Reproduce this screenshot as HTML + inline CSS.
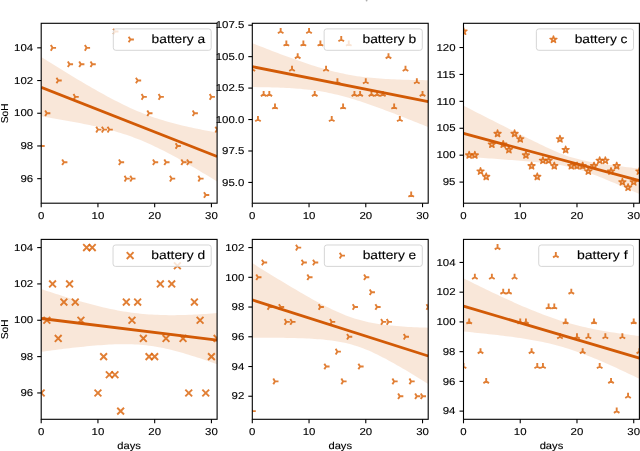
<!DOCTYPE html><html><head><meta charset="utf-8"><style>html,body{margin:0;padding:0;background:#fff;overflow:hidden}svg{display:block;will-change:transform}text{text-rendering:geometricPrecision;font-family:"Liberation Sans",sans-serif;fill:#000;stroke:#000;stroke-width:.12}.lm{fill:none;stroke:#d95f02;stroke-opacity:.8;stroke-width:1.9}.sm{fill:#d95f02;fill-opacity:.25;stroke:#d95f02;stroke-opacity:.8;stroke-width:1.5;stroke-linejoin:round}.tk{font-size:10.5px}.lg{font-size:13px}</style></head><body>
<svg width="640" height="451" viewBox="0 0 640 451">
<rect width="640" height="451" fill="#fff"/>
<defs>
<clipPath id="ca"><rect x="41.2" y="23.3" width="175.9" height="179.9"/></clipPath>
<clipPath id="cb"><rect x="252.3" y="23.3" width="175.9" height="179.9"/></clipPath>
<clipPath id="cc"><rect x="463.5" y="23.3" width="175.9" height="179.9"/></clipPath>
<clipPath id="cd"><rect x="41.2" y="239.4" width="175.9" height="179.9"/></clipPath>
<clipPath id="ce"><rect x="252.3" y="239.4" width="175.9" height="179.9"/></clipPath>
<clipPath id="cf"><rect x="463.5" y="239.4" width="175.9" height="179.9"/></clipPath>
</defs>
<g clip-path="url(#ca)">
<path d="M41.2 145.96L44.7 145.96M41.2 145.96L39.45 143.16M41.2 145.96L39.45 148.76" class="lm"/>
<path d="M46.87 113.25L50.37 113.25M46.87 113.25L45.12 110.45M46.87 113.25L45.12 116.05" class="lm"/>
<path d="M52.55 47.83L56.05 47.83M52.55 47.83L50.8 45.03M52.55 47.83L50.8 50.63" class="lm"/>
<path d="M58.22 80.54L61.72 80.54M58.22 80.54L56.47 77.74M58.22 80.54L56.47 83.34" class="lm"/>
<path d="M63.9 162.31L67.4 162.31M63.9 162.31L62.15 159.51M63.9 162.31L62.15 165.11" class="lm"/>
<path d="M69.57 64.19L73.07 64.19M69.57 64.19L67.82 61.39M69.57 64.19L67.82 66.99" class="lm"/>
<path d="M75.25 96.9L78.75 96.9M75.25 96.9L73.5 94.1M75.25 96.9L73.5 99.7" class="lm"/>
<path d="M80.92 64.19L84.42 64.19M80.92 64.19L79.17 61.39M80.92 64.19L79.17 66.99" class="lm"/>
<path d="M86.59 47.83L90.09 47.83M86.59 47.83L84.84 45.03M86.59 47.83L84.84 50.63" class="lm"/>
<path d="M92.27 64.19L95.77 64.19M92.27 64.19L90.52 61.39M92.27 64.19L90.52 66.99" class="lm"/>
<path d="M97.94 129.6L101.44 129.6M97.94 129.6L96.19 126.8M97.94 129.6L96.19 132.4" class="lm"/>
<path d="M103.62 129.6L107.12 129.6M103.62 129.6L101.87 126.8M103.62 129.6L101.87 132.4" class="lm"/>
<path d="M109.29 129.6L112.79 129.6M109.29 129.6L107.54 126.8M109.29 129.6L107.54 132.4" class="lm"/>
<path d="M114.96 31.48L118.46 31.48M114.96 31.48L113.21 28.68M114.96 31.48L113.21 34.28" class="lm"/>
<path d="M120.64 162.31L124.14 162.31M120.64 162.31L118.89 159.51M120.64 162.31L118.89 165.11" class="lm"/>
<path d="M126.31 178.67L129.81 178.67M126.31 178.67L124.56 175.87M126.31 178.67L124.56 181.47" class="lm"/>
<path d="M131.99 178.67L135.49 178.67M131.99 178.67L130.24 175.87M131.99 178.67L130.24 181.47" class="lm"/>
<path d="M137.66 80.54L141.16 80.54M137.66 80.54L135.91 77.74M137.66 80.54L135.91 83.34" class="lm"/>
<path d="M143.34 96.9L146.84 96.9M143.34 96.9L141.59 94.1M143.34 96.9L141.59 99.7" class="lm"/>
<path d="M149.01 113.25L152.51 113.25M149.01 113.25L147.26 110.45M149.01 113.25L147.26 116.05" class="lm"/>
<path d="M154.68 162.31L158.18 162.31M154.68 162.31L152.93 159.51M154.68 162.31L152.93 165.11" class="lm"/>
<path d="M160.36 96.9L163.86 96.9M160.36 96.9L158.61 94.1M160.36 96.9L158.61 99.7" class="lm"/>
<path d="M166.03 162.31L169.53 162.31M166.03 162.31L164.28 159.51M166.03 162.31L164.28 165.11" class="lm"/>
<path d="M171.71 178.67L175.21 178.67M171.71 178.67L169.96 175.87M171.71 178.67L169.96 181.47" class="lm"/>
<path d="M177.38 145.96L180.88 145.96M177.38 145.96L175.63 143.16M177.38 145.96L175.63 148.76" class="lm"/>
<path d="M183.05 162.31L186.55 162.31M183.05 162.31L181.3 159.51M183.05 162.31L181.3 165.11" class="lm"/>
<path d="M188.73 162.31L192.23 162.31M188.73 162.31L186.98 159.51M188.73 162.31L186.98 165.11" class="lm"/>
<path d="M194.4 113.25L197.9 113.25M194.4 113.25L192.65 110.45M194.4 113.25L192.65 116.05" class="lm"/>
<path d="M200.08 178.67L203.58 178.67M200.08 178.67L198.33 175.87M200.08 178.67L198.33 181.47" class="lm"/>
<path d="M205.75 195.02L209.25 195.02M205.75 195.02L204 192.22M205.75 195.02L204 197.82" class="lm"/>
<path d="M211.43 96.9L214.93 96.9M211.43 96.9L209.68 94.1M211.43 96.9L209.68 99.7" class="lm"/>
<path d="M217.1 129.6L220.6 129.6M217.1 129.6L215.35 126.8M217.1 129.6L215.35 132.4" class="lm"/>
<path d="M41.2 57L44.04 58.77L46.87 60.54L49.71 62.31L52.55 64.07L55.39 65.82L58.22 67.57L61.06 69.32L63.9 71.06L66.73 72.79L69.57 74.51L72.41 76.23L75.25 77.93L78.08 79.63L80.92 81.32L83.76 83L86.59 84.66L89.43 86.31L92.27 87.95L95.1 89.58L97.94 91.19L100.78 92.78L103.62 94.35L106.45 95.9L109.29 97.43L112.13 98.94L114.96 100.42L117.8 101.87L120.64 103.3L123.48 104.69L126.31 106.05L129.15 107.38L131.99 108.68L134.82 109.93L137.66 111.15L140.5 112.33L143.34 113.46L146.17 114.56L149.01 115.62L151.85 116.64L154.68 117.63L157.52 118.57L160.36 119.48L163.2 120.35L166.03 121.2L168.87 122.01L171.71 122.79L174.54 123.54L177.38 124.27L180.22 124.97L183.05 125.65L185.89 126.31L188.73 126.95L191.57 127.58L194.4 128.18L197.24 128.78L200.08 129.35L202.91 129.92L205.75 130.47L208.59 131.01L211.43 131.55L214.26 132.07L217.1 132.58L217.1 181.48L214.26 179.75L211.43 178.02L208.59 176.29L205.75 174.58L202.91 172.88L200.08 171.18L197.24 169.5L194.4 167.83L191.57 166.17L188.73 164.53L185.89 162.9L183.05 161.28L180.22 159.69L177.38 158.11L174.54 156.55L171.71 155.02L168.87 153.51L166.03 152.02L163.2 150.57L160.36 149.14L157.52 147.74L154.68 146.38L151.85 145.05L149.01 143.76L146.17 142.51L143.34 141.3L140.5 140.12L137.66 138.99L134.82 137.9L131.99 136.85L129.15 135.84L126.31 134.87L123.48 133.94L120.64 133.04L117.8 132.18L114.96 131.35L112.13 130.55L109.29 129.78L106.45 129.04L103.62 128.33L100.78 127.64L97.94 126.97L95.1 126.32L92.27 125.69L89.43 125.08L86.59 124.49L83.76 123.91L80.92 123.34L78.08 122.78L75.25 122.24L72.41 121.71L69.57 121.19L66.73 120.67L63.9 120.17L61.06 119.67L58.22 119.18L55.39 118.7L52.55 118.22L49.71 117.75L46.87 117.28L44.04 116.82L41.2 116.36Z" fill="#d95f02" fill-opacity="0.15"/>
<line x1="41.2" y1="87.42" x2="217.1" y2="156.46" stroke="#d25a06" stroke-width="2.8"/>
</g>
<rect x="41.2" y="23.3" width="175.9" height="179.9" fill="none" stroke="#000" stroke-width="1.1"/>
<line x1="41.2" y1="203.2" x2="41.2" y2="207.2" stroke="#000" stroke-width="1.1"/>
<text x="41.2" y="218.8" font-size="10" text-anchor="middle" textLength="6.36" lengthAdjust="spacingAndGlyphs">0</text>
<line x1="97.94" y1="203.2" x2="97.94" y2="207.2" stroke="#000" stroke-width="1.1"/>
<text x="97.94" y="218.8" font-size="10" text-anchor="middle" textLength="12.72" lengthAdjust="spacingAndGlyphs">10</text>
<line x1="154.68" y1="203.2" x2="154.68" y2="207.2" stroke="#000" stroke-width="1.1"/>
<text x="154.68" y="218.8" font-size="10" text-anchor="middle" textLength="12.72" lengthAdjust="spacingAndGlyphs">20</text>
<line x1="211.43" y1="203.2" x2="211.43" y2="207.2" stroke="#000" stroke-width="1.1"/>
<text x="211.43" y="218.8" font-size="10" text-anchor="middle" textLength="12.72" lengthAdjust="spacingAndGlyphs">30</text>
<line x1="37.2" y1="178.67" x2="41.2" y2="178.67" stroke="#000" stroke-width="1.1"/>
<text x="33.2" y="181.87" font-size="10" text-anchor="end" textLength="12.72" lengthAdjust="spacingAndGlyphs">96</text>
<line x1="37.2" y1="145.96" x2="41.2" y2="145.96" stroke="#000" stroke-width="1.1"/>
<text x="33.2" y="149.16" font-size="10" text-anchor="end" textLength="12.72" lengthAdjust="spacingAndGlyphs">98</text>
<line x1="37.2" y1="113.25" x2="41.2" y2="113.25" stroke="#000" stroke-width="1.1"/>
<text x="33.2" y="116.45" font-size="10" text-anchor="end" textLength="19.09" lengthAdjust="spacingAndGlyphs">100</text>
<line x1="37.2" y1="80.54" x2="41.2" y2="80.54" stroke="#000" stroke-width="1.1"/>
<text x="33.2" y="83.74" font-size="10" text-anchor="end" textLength="19.09" lengthAdjust="spacingAndGlyphs">102</text>
<line x1="37.2" y1="47.83" x2="41.2" y2="47.83" stroke="#000" stroke-width="1.1"/>
<text x="33.2" y="51.03" font-size="10" text-anchor="end" textLength="19.09" lengthAdjust="spacingAndGlyphs">104</text>
<rect x="113.3" y="28.9" width="97.9" height="21.4" rx="2.5" fill="#fff" fill-opacity="0.8" stroke="#ccc" stroke-opacity="0.8" stroke-width="1"/>
<path d="M130.4 39.5L133.9 39.5M130.4 39.5L128.65 36.7M130.4 39.5L128.65 42.3" class="lm"/>
<text x="151.6" y="43.3" font-size="12" text-anchor=" style="stroke-width:.12"" textLength="53.59" lengthAdjust="spacingAndGlyphs">battery a</text>
<text x="0" y="0" font-size="10" text-anchor="middle" textLength="19.99" lengthAdjust="spacingAndGlyphs" transform="translate(8.2 113.25) rotate(-90)">SoH</text>
<g clip-path="url(#cb)">
<path d="M252.3 69.22L252.3 65.72M252.3 69.22L249.5 70.97M252.3 69.22L255.1 70.97" class="lm"/>
<path d="M257.97 119.54L257.97 116.04M257.97 119.54L255.17 121.29M257.97 119.54L260.77 121.29" class="lm"/>
<path d="M263.65 94.38L263.65 90.88M263.65 94.38L260.85 96.13M263.65 94.38L266.45 96.13" class="lm"/>
<path d="M269.32 94.38L269.32 90.88M269.32 94.38L266.52 96.13M269.32 94.38L272.12 96.13" class="lm"/>
<path d="M275 106.96L275 103.46M275 106.96L272.2 108.71M275 106.96L277.8 108.71" class="lm"/>
<path d="M280.67 31.48L280.67 27.98M280.67 31.48L277.87 33.23M280.67 31.48L283.47 33.23" class="lm"/>
<path d="M286.35 44.06L286.35 40.56M286.35 44.06L283.55 45.81M286.35 44.06L289.15 45.81" class="lm"/>
<path d="M292.02 69.22L292.02 65.72M292.02 69.22L289.22 70.97M292.02 69.22L294.82 70.97" class="lm"/>
<path d="M297.69 56.64L297.69 53.14M297.69 56.64L294.89 58.39M297.69 56.64L300.49 58.39" class="lm"/>
<path d="M303.37 44.06L303.37 40.56M303.37 44.06L300.57 45.81M303.37 44.06L306.17 45.81" class="lm"/>
<path d="M309.04 31.48L309.04 27.98M309.04 31.48L306.24 33.23M309.04 31.48L311.84 33.23" class="lm"/>
<path d="M314.72 94.38L314.72 90.88M314.72 94.38L311.92 96.13M314.72 94.38L317.52 96.13" class="lm"/>
<path d="M320.39 44.06L320.39 40.56M320.39 44.06L317.59 45.81M320.39 44.06L323.19 45.81" class="lm"/>
<path d="M326.06 69.22L326.06 65.72M326.06 69.22L323.26 70.97M326.06 69.22L328.86 70.97" class="lm"/>
<path d="M331.74 119.54L331.74 116.04M331.74 119.54L328.94 121.29M331.74 119.54L334.54 121.29" class="lm"/>
<path d="M337.41 81.8L337.41 78.3M337.41 81.8L334.61 83.55M337.41 81.8L340.21 83.55" class="lm"/>
<path d="M343.09 106.96L343.09 103.46M343.09 106.96L340.29 108.71M343.09 106.96L345.89 108.71" class="lm"/>
<path d="M348.76 44.06L348.76 40.56M348.76 44.06L345.96 45.81M348.76 44.06L351.56 45.81" class="lm"/>
<path d="M354.44 94.38L354.44 90.88M354.44 94.38L351.64 96.13M354.44 94.38L357.24 96.13" class="lm"/>
<path d="M360.11 94.38L360.11 90.88M360.11 94.38L357.31 96.13M360.11 94.38L362.91 96.13" class="lm"/>
<path d="M365.78 81.8L365.78 78.3M365.78 81.8L362.98 83.55M365.78 81.8L368.58 83.55" class="lm"/>
<path d="M371.46 94.38L371.46 90.88M371.46 94.38L368.66 96.13M371.46 94.38L374.26 96.13" class="lm"/>
<path d="M377.13 94.38L377.13 90.88M377.13 94.38L374.33 96.13M377.13 94.38L379.93 96.13" class="lm"/>
<path d="M382.81 94.38L382.81 90.88M382.81 94.38L380.01 96.13M382.81 94.38L385.61 96.13" class="lm"/>
<path d="M388.48 56.64L388.48 53.14M388.48 56.64L385.68 58.39M388.48 56.64L391.28 58.39" class="lm"/>
<path d="M394.15 106.96L394.15 103.46M394.15 106.96L391.35 108.71M394.15 106.96L396.95 108.71" class="lm"/>
<path d="M399.83 119.54L399.83 116.04M399.83 119.54L397.03 121.29M399.83 119.54L402.63 121.29" class="lm"/>
<path d="M405.5 69.22L405.5 65.72M405.5 69.22L402.7 70.97M405.5 69.22L408.3 70.97" class="lm"/>
<path d="M411.18 195.02L411.18 191.52M411.18 195.02L408.38 196.77M411.18 195.02L413.98 196.77" class="lm"/>
<path d="M416.85 81.8L416.85 78.3M416.85 81.8L414.05 83.55M416.85 81.8L419.65 83.55" class="lm"/>
<path d="M422.53 94.38L422.53 90.88M422.53 94.38L419.73 96.13M422.53 94.38L425.33 96.13" class="lm"/>
<path d="M252.3 43.18L255.14 44.3L257.97 45.41L260.81 46.52L263.65 47.62L266.49 48.72L269.32 49.82L272.16 50.91L275 51.99L277.83 53.06L280.67 54.13L283.51 55.19L286.35 56.24L289.18 57.28L292.02 58.31L294.86 59.33L297.69 60.34L300.53 61.33L303.37 62.31L306.2 63.27L309.04 64.21L311.88 65.14L314.72 66.04L317.55 66.93L320.39 67.79L323.23 68.62L326.06 69.43L328.9 70.2L331.74 70.95L334.58 71.66L337.41 72.35L340.25 72.99L343.09 73.6L345.92 74.18L348.76 74.72L351.6 75.23L354.44 75.7L357.27 76.13L360.11 76.53L362.95 76.91L365.78 77.25L368.62 77.56L371.46 77.85L374.3 78.11L377.13 78.34L379.97 78.56L382.81 78.76L385.64 78.93L388.48 79.1L391.32 79.24L394.15 79.37L396.99 79.49L399.83 79.59L402.67 79.69L405.5 79.77L408.34 79.85L411.18 79.91L414.01 79.97L416.85 80.02L419.69 80.07L422.53 80.1L425.36 80.14L428.2 80.16L428.2 127.09L425.36 125.94L422.53 124.8L419.69 123.66L416.85 122.52L414.01 121.39L411.18 120.26L408.34 119.14L405.5 118.02L402.67 116.91L399.83 115.81L396.99 114.71L394.15 113.61L391.32 112.53L388.48 111.45L385.64 110.39L382.81 109.33L379.97 108.28L377.13 107.25L374.3 106.23L371.46 105.22L368.62 104.23L365.78 103.25L362.95 102.29L360.11 101.36L357.27 100.44L354.44 99.55L351.6 98.68L348.76 97.84L345.92 97.04L343.09 96.26L340.25 95.51L337.41 94.8L334.58 94.13L331.74 93.49L328.9 92.89L326.06 92.33L323.23 91.8L320.39 91.32L317.55 90.87L314.72 90.46L311.88 90.08L309.04 89.73L306.2 89.42L303.37 89.13L300.53 88.87L297.69 88.64L294.86 88.43L292.02 88.24L289.18 88.07L286.35 87.92L283.51 87.79L280.67 87.67L277.83 87.56L275 87.47L272.16 87.39L269.32 87.32L266.49 87.26L263.65 87.21L260.81 87.17L257.97 87.13L255.14 87.1L252.3 87.08Z" fill="#d95f02" fill-opacity="0.15"/>
<line x1="252.3" y1="66.7" x2="428.2" y2="101.68" stroke="#d25a06" stroke-width="2.8"/>
</g>
<rect x="252.3" y="23.3" width="175.9" height="179.9" fill="none" stroke="#000" stroke-width="1.1"/>
<line x1="252.3" y1="203.2" x2="252.3" y2="207.2" stroke="#000" stroke-width="1.1"/>
<text x="252.3" y="218.8" font-size="10" text-anchor="middle" textLength="6.36" lengthAdjust="spacingAndGlyphs">0</text>
<line x1="309.04" y1="203.2" x2="309.04" y2="207.2" stroke="#000" stroke-width="1.1"/>
<text x="309.04" y="218.8" font-size="10" text-anchor="middle" textLength="12.72" lengthAdjust="spacingAndGlyphs">10</text>
<line x1="365.78" y1="203.2" x2="365.78" y2="207.2" stroke="#000" stroke-width="1.1"/>
<text x="365.78" y="218.8" font-size="10" text-anchor="middle" textLength="12.72" lengthAdjust="spacingAndGlyphs">20</text>
<line x1="422.53" y1="203.2" x2="422.53" y2="207.2" stroke="#000" stroke-width="1.1"/>
<text x="422.53" y="218.8" font-size="10" text-anchor="middle" textLength="12.72" lengthAdjust="spacingAndGlyphs">30</text>
<line x1="248.3" y1="182.44" x2="252.3" y2="182.44" stroke="#000" stroke-width="1.1"/>
<text x="244.3" y="185.64" font-size="10" text-anchor="end" textLength="22.27" lengthAdjust="spacingAndGlyphs">95.0</text>
<line x1="248.3" y1="150.99" x2="252.3" y2="150.99" stroke="#000" stroke-width="1.1"/>
<text x="244.3" y="154.19" font-size="10" text-anchor="end" textLength="22.27" lengthAdjust="spacingAndGlyphs">97.5</text>
<line x1="248.3" y1="119.54" x2="252.3" y2="119.54" stroke="#000" stroke-width="1.1"/>
<text x="244.3" y="122.74" font-size="10" text-anchor="end" textLength="28.63" lengthAdjust="spacingAndGlyphs">100.0</text>
<line x1="248.3" y1="88.09" x2="252.3" y2="88.09" stroke="#000" stroke-width="1.1"/>
<text x="244.3" y="91.29" font-size="10" text-anchor="end" textLength="28.63" lengthAdjust="spacingAndGlyphs">102.5</text>
<line x1="248.3" y1="56.64" x2="252.3" y2="56.64" stroke="#000" stroke-width="1.1"/>
<text x="244.3" y="59.84" font-size="10" text-anchor="end" textLength="28.63" lengthAdjust="spacingAndGlyphs">105.0</text>
<line x1="248.3" y1="25.19" x2="252.3" y2="25.19" stroke="#000" stroke-width="1.1"/>
<text x="244.3" y="28.39" font-size="10" text-anchor="end" textLength="28.63" lengthAdjust="spacingAndGlyphs">107.5</text>
<rect x="324.14" y="28.9" width="98.16" height="21.4" rx="2.5" fill="#fff" fill-opacity="0.8" stroke="#ccc" stroke-opacity="0.8" stroke-width="1"/>
<path d="M341.24 39.5L341.24 36M341.24 39.5L338.44 41.25M341.24 39.5L344.04 41.25" class="lm"/>
<text x="362.44" y="43.3" font-size="12" text-anchor=" style="stroke-width:.12"" textLength="53.85" lengthAdjust="spacingAndGlyphs">battery b</text>
<g clip-path="url(#cc)">
<path d="M463.5 27.77L462.69 30.26L460.08 30.26L462.19 31.8L461.38 34.29L463.5 32.75L465.62 34.29L464.81 31.8L466.92 30.26L464.31 30.26Z" class="sm"/>
<path d="M469.17 151.58L468.37 154.07L465.75 154.07L467.87 155.61L467.06 158.1L469.17 156.56L471.29 158.1L470.48 155.61L472.6 154.07L469.98 154.07Z" class="sm"/>
<path d="M474.85 151.58L474.04 154.07L471.42 154.07L473.54 155.61L472.73 158.1L474.85 156.56L476.96 158.1L476.16 155.61L478.27 154.07L475.66 154.07Z" class="sm"/>
<path d="M480.52 167.73L479.71 170.22L477.1 170.22L479.21 171.76L478.41 174.25L480.52 172.71L482.64 174.25L481.83 171.76L483.95 170.22L481.33 170.22Z" class="sm"/>
<path d="M486.2 173.12L485.39 175.6L482.77 175.6L484.89 177.14L484.08 179.63L486.2 178.09L488.31 179.63L487.5 177.14L489.62 175.6L487.01 175.6Z" class="sm"/>
<path d="M491.87 140.82L491.06 143.31L488.45 143.31L490.56 144.84L489.75 147.33L491.87 145.79L493.99 147.33L493.18 144.84L495.29 143.31L492.68 143.31Z" class="sm"/>
<path d="M497.55 130.05L496.74 132.54L494.12 132.54L496.24 134.08L495.43 136.56L497.55 135.03L499.66 136.56L498.85 134.08L500.97 132.54L498.35 132.54Z" class="sm"/>
<path d="M503.22 140.82L502.41 143.31L499.8 143.31L501.91 144.84L501.1 147.33L503.22 145.79L505.34 147.33L504.53 144.84L506.64 143.31L504.03 143.31Z" class="sm"/>
<path d="M508.89 146.2L508.09 148.69L505.47 148.69L507.59 150.23L506.78 152.71L508.89 151.18L511.01 152.71L510.2 150.23L512.32 148.69L509.7 148.69Z" class="sm"/>
<path d="M514.57 130.05L513.76 132.54L511.14 132.54L513.26 134.08L512.45 136.56L514.57 135.03L516.68 136.56L515.88 134.08L517.99 132.54L515.38 132.54Z" class="sm"/>
<path d="M520.24 135.43L519.43 137.92L516.82 137.92L518.93 139.46L518.13 141.95L520.24 140.41L522.36 141.95L521.55 139.46L523.67 137.92L521.05 137.92Z" class="sm"/>
<path d="M525.92 151.58L525.11 154.07L522.49 154.07L524.61 155.61L523.8 158.1L525.92 156.56L528.03 158.1L527.22 155.61L529.34 154.07L526.72 154.07Z" class="sm"/>
<path d="M531.59 162.35L530.78 164.84L528.17 164.84L530.28 166.37L529.47 168.86L531.59 167.32L533.71 168.86L532.9 166.37L535.01 164.84L532.4 164.84Z" class="sm"/>
<path d="M537.26 173.12L536.46 175.6L533.84 175.6L535.96 177.14L535.15 179.63L537.26 178.09L539.38 179.63L538.57 177.14L540.69 175.6L538.07 175.6Z" class="sm"/>
<path d="M542.94 156.97L542.13 159.45L539.51 159.45L541.63 160.99L540.82 163.48L542.94 161.94L545.05 163.48L544.25 160.99L546.36 159.45L543.75 159.45Z" class="sm"/>
<path d="M548.61 156.97L547.8 159.45L545.19 159.45L547.31 160.99L546.5 163.48L548.61 161.94L550.73 163.48L549.92 160.99L552.04 159.45L549.42 159.45Z" class="sm"/>
<path d="M554.29 162.35L553.48 164.84L550.86 164.84L552.98 166.37L552.17 168.86L554.29 167.32L556.4 168.86L555.59 166.37L557.71 164.84L555.1 164.84Z" class="sm"/>
<path d="M559.96 135.43L559.15 137.92L556.54 137.92L558.65 139.46L557.85 141.95L559.96 140.41L562.08 141.95L561.27 139.46L563.39 137.92L560.77 137.92Z" class="sm"/>
<path d="M565.64 146.2L564.83 148.69L562.21 148.69L564.33 150.23L563.52 152.71L565.64 151.18L567.75 152.71L566.94 150.23L569.06 148.69L566.44 148.69Z" class="sm"/>
<path d="M571.31 162.35L570.5 164.84L567.89 164.84L570 166.37L569.19 168.86L571.31 167.32L573.43 168.86L572.62 166.37L574.73 164.84L572.12 164.84Z" class="sm"/>
<path d="M576.98 162.35L576.18 164.84L573.56 164.84L575.68 166.37L574.87 168.86L576.98 167.32L579.1 168.86L578.29 166.37L580.41 164.84L577.79 164.84Z" class="sm"/>
<path d="M582.66 162.35L581.85 164.84L579.23 164.84L581.35 166.37L580.54 168.86L582.66 167.32L584.77 168.86L583.97 166.37L586.08 164.84L583.47 164.84Z" class="sm"/>
<path d="M588.33 167.73L587.52 170.22L584.91 170.22L587.02 171.76L586.22 174.25L588.33 172.71L590.45 174.25L589.64 171.76L591.76 170.22L589.14 170.22Z" class="sm"/>
<path d="M594.01 162.35L593.2 164.84L590.58 164.84L592.7 166.37L591.89 168.86L594.01 167.32L596.12 168.86L595.31 166.37L597.43 164.84L594.81 164.84Z" class="sm"/>
<path d="M599.68 156.97L598.87 159.45L596.26 159.45L598.37 160.99L597.56 163.48L599.68 161.94L601.8 163.48L600.99 160.99L603.1 159.45L600.49 159.45Z" class="sm"/>
<path d="M605.35 156.97L604.55 159.45L601.93 159.45L604.05 160.99L603.24 163.48L605.35 161.94L607.47 163.48L606.66 160.99L608.78 159.45L606.16 159.45Z" class="sm"/>
<path d="M611.03 167.73L610.22 170.22L607.61 170.22L609.72 171.76L608.91 174.25L611.03 172.71L613.15 174.25L612.34 171.76L614.45 170.22L611.84 170.22Z" class="sm"/>
<path d="M616.7 162.35L615.89 164.84L613.28 164.84L615.4 166.37L614.59 168.86L616.7 167.32L618.82 168.86L618.01 166.37L620.13 164.84L617.51 164.84Z" class="sm"/>
<path d="M622.38 178.5L621.57 180.99L618.95 180.99L621.07 182.52L620.26 185.01L622.38 183.47L624.49 185.01L623.69 182.52L625.8 180.99L623.19 180.99Z" class="sm"/>
<path d="M628.05 183.88L627.24 186.37L624.63 186.37L626.74 187.91L625.94 190.39L628.05 188.86L630.17 190.39L629.36 187.91L631.48 186.37L628.86 186.37Z" class="sm"/>
<path d="M633.73 178.5L632.92 180.99L630.3 180.99L632.42 182.52L631.61 185.01L633.73 183.47L635.84 185.01L635.03 182.52L637.15 180.99L634.53 180.99Z" class="sm"/>
<path d="M639.4 167.73L638.59 170.22L635.98 170.22L638.09 171.76L637.28 174.25L639.4 172.71L641.52 174.25L640.71 171.76L642.82 170.22L640.21 170.22Z" class="sm"/>
<path d="M463.5 105.64L466.34 107.09L469.17 108.54L472.01 109.99L474.85 111.44L477.69 112.89L480.52 114.33L483.36 115.78L486.2 117.22L489.03 118.67L491.87 120.11L494.71 121.55L497.55 122.99L500.38 124.43L503.22 125.87L506.06 127.3L508.89 128.73L511.73 130.16L514.57 131.59L517.4 133.01L520.24 134.43L523.08 135.85L525.92 137.26L528.75 138.66L531.59 140.06L534.43 141.45L537.26 142.83L540.1 144.2L542.94 145.56L545.78 146.9L548.61 148.22L551.45 149.52L554.29 150.78L557.12 152.02L559.96 153.21L562.8 154.34L565.64 155.41L568.47 156.4L571.31 157.31L574.15 158.12L576.98 158.85L579.82 159.55L582.66 160.2L585.5 160.81L588.33 161.39L591.17 161.93L594.01 162.44L596.84 162.93L599.68 163.39L602.52 163.83L605.35 164.26L608.19 164.67L611.03 165.07L613.87 165.46L616.7 165.84L619.54 166.21L622.38 166.57L625.21 166.92L628.05 167.27L630.89 167.62L633.73 167.96L636.56 168.29L639.4 168.63L639.4 194.06L636.56 192.8L633.73 191.54L630.89 190.28L628.05 189.03L625.21 187.79L622.38 186.54L619.54 185.31L616.7 184.08L613.87 182.86L611.03 181.65L608.19 180.46L605.35 179.27L602.52 178.1L599.68 176.95L596.84 175.82L594.01 174.72L591.17 173.65L588.33 172.61L585.5 171.61L582.66 170.66L579.82 169.75L576.98 168.91L574.15 168.12L571.31 167.39L568.47 166.73L565.64 166.13L562.8 165.59L559.96 165.09L557.12 164.65L554.29 164.24L551.45 163.86L548.61 163.5L545.78 163.17L542.94 162.86L540.1 162.56L537.26 162.28L534.43 162.01L531.59 161.75L528.75 161.49L525.92 161.25L523.08 161.01L520.24 160.77L517.4 160.54L514.57 160.32L511.73 160.1L508.89 159.88L506.06 159.66L503.22 159.45L500.38 159.24L497.55 159.03L494.71 158.82L491.87 158.62L489.03 158.42L486.2 158.21L483.36 158.01L480.52 157.81L477.69 157.61L474.85 157.42L472.01 157.22L469.17 157.02L466.34 156.83L463.5 156.64Z" fill="#d95f02" fill-opacity="0.15"/>
<line x1="463.5" y1="133.47" x2="639.4" y2="180.6" stroke="#d25a06" stroke-width="2.8"/>
</g>
<rect x="463.5" y="23.3" width="175.9" height="179.9" fill="none" stroke="#000" stroke-width="1.1"/>
<line x1="463.5" y1="203.2" x2="463.5" y2="207.2" stroke="#000" stroke-width="1.1"/>
<text x="463.5" y="218.8" font-size="10" text-anchor="middle" textLength="6.36" lengthAdjust="spacingAndGlyphs">0</text>
<line x1="520.24" y1="203.2" x2="520.24" y2="207.2" stroke="#000" stroke-width="1.1"/>
<text x="520.24" y="218.8" font-size="10" text-anchor="middle" textLength="12.72" lengthAdjust="spacingAndGlyphs">10</text>
<line x1="576.98" y1="203.2" x2="576.98" y2="207.2" stroke="#000" stroke-width="1.1"/>
<text x="576.98" y="218.8" font-size="10" text-anchor="middle" textLength="12.72" lengthAdjust="spacingAndGlyphs">20</text>
<line x1="633.73" y1="203.2" x2="633.73" y2="207.2" stroke="#000" stroke-width="1.1"/>
<text x="633.73" y="218.8" font-size="10" text-anchor="middle" textLength="12.72" lengthAdjust="spacingAndGlyphs">30</text>
<line x1="459.5" y1="182.1" x2="463.5" y2="182.1" stroke="#000" stroke-width="1.1"/>
<text x="455.5" y="185.3" font-size="10" text-anchor="end" textLength="12.72" lengthAdjust="spacingAndGlyphs">95</text>
<line x1="459.5" y1="155.18" x2="463.5" y2="155.18" stroke="#000" stroke-width="1.1"/>
<text x="455.5" y="158.38" font-size="10" text-anchor="end" textLength="19.09" lengthAdjust="spacingAndGlyphs">100</text>
<line x1="459.5" y1="128.27" x2="463.5" y2="128.27" stroke="#000" stroke-width="1.1"/>
<text x="455.5" y="131.47" font-size="10" text-anchor="end" textLength="19.09" lengthAdjust="spacingAndGlyphs">105</text>
<line x1="459.5" y1="101.35" x2="463.5" y2="101.35" stroke="#000" stroke-width="1.1"/>
<text x="455.5" y="104.55" font-size="10" text-anchor="end" textLength="19.09" lengthAdjust="spacingAndGlyphs">110</text>
<line x1="459.5" y1="74.44" x2="463.5" y2="74.44" stroke="#000" stroke-width="1.1"/>
<text x="455.5" y="77.64" font-size="10" text-anchor="end" textLength="19.09" lengthAdjust="spacingAndGlyphs">115</text>
<line x1="459.5" y1="47.52" x2="463.5" y2="47.52" stroke="#000" stroke-width="1.1"/>
<text x="455.5" y="50.72" font-size="10" text-anchor="end" textLength="19.09" lengthAdjust="spacingAndGlyphs">120</text>
<rect x="536.36" y="28.9" width="97.14" height="21.4" rx="2.5" fill="#fff" fill-opacity="0.8" stroke="#ccc" stroke-opacity="0.8" stroke-width="1"/>
<path d="M553.46 35.9L552.65 38.39L550.03 38.39L552.15 39.92L551.34 42.41L553.46 40.88L555.57 42.41L554.76 39.92L556.88 38.39L554.26 38.39Z" class="sm"/>
<text x="574.66" y="43.3" font-size="12" text-anchor=" style="stroke-width:.12"" textLength="52.86" lengthAdjust="spacingAndGlyphs">battery c</text>
<g clip-path="url(#cd)">
<path d="M37.8 389.55L44.6 396.35M37.8 396.35L44.6 389.55" class="lm"/>
<path d="M43.47 316.86L50.27 323.66M43.47 323.66L50.27 316.86" class="lm"/>
<path d="M49.15 280.52L55.95 287.32M49.15 287.32L55.95 280.52" class="lm"/>
<path d="M54.82 335.04L61.62 341.84M54.82 341.84L61.62 335.04" class="lm"/>
<path d="M60.5 298.69L67.3 305.49M60.5 305.49L67.3 298.69" class="lm"/>
<path d="M66.17 280.52L72.97 287.32M66.17 287.32L72.97 280.52" class="lm"/>
<path d="M71.85 298.69L78.65 305.49M71.85 305.49L78.65 298.69" class="lm"/>
<path d="M77.52 316.86L84.32 323.66M77.52 323.66L84.32 316.86" class="lm"/>
<path d="M83.19 244.18L89.99 250.98M83.19 250.98L89.99 244.18" class="lm"/>
<path d="M88.87 244.18L95.67 250.98M88.87 250.98L95.67 244.18" class="lm"/>
<path d="M94.54 389.55L101.34 396.35M94.54 396.35L101.34 389.55" class="lm"/>
<path d="M100.22 353.21L107.02 360.01M100.22 360.01L107.02 353.21" class="lm"/>
<path d="M105.89 371.38L112.69 378.18M105.89 378.18L112.69 371.38" class="lm"/>
<path d="M111.56 371.38L118.36 378.18M111.56 378.18L118.36 371.38" class="lm"/>
<path d="M117.24 407.72L124.04 414.52M117.24 414.52L124.04 407.72" class="lm"/>
<path d="M122.91 298.69L129.71 305.49M122.91 305.49L129.71 298.69" class="lm"/>
<path d="M128.59 316.86L135.39 323.66M128.59 323.66L135.39 316.86" class="lm"/>
<path d="M134.26 298.69L141.06 305.49M134.26 305.49L141.06 298.69" class="lm"/>
<path d="M139.94 335.04L146.74 341.84M139.94 341.84L146.74 335.04" class="lm"/>
<path d="M145.61 353.21L152.41 360.01M145.61 360.01L152.41 353.21" class="lm"/>
<path d="M151.28 353.21L158.08 360.01M151.28 360.01L158.08 353.21" class="lm"/>
<path d="M156.96 280.52L163.76 287.32M156.96 287.32L163.76 280.52" class="lm"/>
<path d="M162.63 335.04L169.43 341.84M162.63 341.84L169.43 335.04" class="lm"/>
<path d="M168.31 280.52L175.11 287.32M168.31 287.32L175.11 280.52" class="lm"/>
<path d="M173.98 262.35L180.78 269.15M173.98 269.15L180.78 262.35" class="lm"/>
<path d="M179.65 335.04L186.45 341.84M179.65 341.84L186.45 335.04" class="lm"/>
<path d="M185.33 389.55L192.13 396.35M185.33 396.35L192.13 389.55" class="lm"/>
<path d="M191 298.69L197.8 305.49M191 305.49L197.8 298.69" class="lm"/>
<path d="M196.68 316.86L203.48 323.66M196.68 323.66L203.48 316.86" class="lm"/>
<path d="M202.35 389.55L209.15 396.35M202.35 396.35L209.15 389.55" class="lm"/>
<path d="M208.03 353.21L214.83 360.01M208.03 360.01L214.83 353.21" class="lm"/>
<path d="M213.7 335.04L220.5 341.84M213.7 341.84L220.5 335.04" class="lm"/>
<path d="M41.2 289.07L44.04 290.01L46.87 290.94L49.71 291.87L52.55 292.79L55.39 293.7L58.22 294.61L61.06 295.5L63.9 296.39L66.73 297.26L69.57 298.13L72.41 298.98L75.25 299.82L78.08 300.65L80.92 301.47L83.76 302.27L86.59 303.06L89.43 303.83L92.27 304.58L95.1 305.31L97.94 306.02L100.78 306.72L103.62 307.39L106.45 308.04L109.29 308.66L112.13 309.26L114.96 309.83L117.8 310.38L120.64 310.89L123.48 311.38L126.31 311.84L129.15 312.27L131.99 312.67L134.82 313.03L137.66 313.37L140.5 313.67L143.34 313.95L146.17 314.19L149.01 314.4L151.85 314.59L154.68 314.74L157.52 314.87L160.36 314.97L163.2 315.05L166.03 315.1L168.87 315.13L171.71 315.14L174.54 315.13L177.38 315.1L180.22 315.05L183.05 314.98L185.89 314.89L188.73 314.79L191.57 314.68L194.4 314.55L197.24 314.41L200.08 314.25L202.91 314.09L205.75 313.91L208.59 313.73L211.43 313.53L214.26 313.33L217.1 313.12L217.1 364.18L214.26 363.18L211.43 362.19L208.59 361.21L205.75 360.25L202.91 359.29L200.08 358.35L197.24 357.43L194.4 356.52L191.57 355.63L188.73 354.76L185.89 353.9L183.05 353.08L180.22 352.28L177.38 351.5L174.54 350.75L171.71 350.04L168.87 349.36L166.03 348.71L163.2 348.11L160.36 347.54L157.52 347.02L154.68 346.54L151.85 346.1L149.01 345.71L146.17 345.37L143.34 345.08L140.5 344.82L137.66 344.62L134.82 344.45L131.99 344.33L129.15 344.25L126.31 344.21L123.48 344.2L120.64 344.22L117.8 344.28L114.96 344.36L112.13 344.47L109.29 344.61L106.45 344.76L103.62 344.94L100.78 345.14L97.94 345.35L95.1 345.58L92.27 345.83L89.43 346.09L86.59 346.36L83.76 346.64L80.92 346.93L78.08 347.23L75.25 347.54L72.41 347.86L69.57 348.19L66.73 348.52L63.9 348.86L61.06 349.21L58.22 349.56L55.39 349.92L52.55 350.28L49.71 350.64L46.87 351.01L44.04 351.39L41.2 351.76Z" fill="#d95f02" fill-opacity="0.15"/>
<line x1="41.2" y1="318.51" x2="217.1" y2="340.19" stroke="#d25a06" stroke-width="2.8"/>
</g>
<rect x="41.2" y="239.4" width="175.9" height="179.9" fill="none" stroke="#000" stroke-width="1.1"/>
<line x1="41.2" y1="419.3" x2="41.2" y2="423.3" stroke="#000" stroke-width="1.1"/>
<text x="41.2" y="434.9" font-size="10" text-anchor="middle" textLength="6.36" lengthAdjust="spacingAndGlyphs">0</text>
<line x1="97.94" y1="419.3" x2="97.94" y2="423.3" stroke="#000" stroke-width="1.1"/>
<text x="97.94" y="434.9" font-size="10" text-anchor="middle" textLength="12.72" lengthAdjust="spacingAndGlyphs">10</text>
<line x1="154.68" y1="419.3" x2="154.68" y2="423.3" stroke="#000" stroke-width="1.1"/>
<text x="154.68" y="434.9" font-size="10" text-anchor="middle" textLength="12.72" lengthAdjust="spacingAndGlyphs">20</text>
<line x1="211.43" y1="419.3" x2="211.43" y2="423.3" stroke="#000" stroke-width="1.1"/>
<text x="211.43" y="434.9" font-size="10" text-anchor="middle" textLength="12.72" lengthAdjust="spacingAndGlyphs">30</text>
<line x1="37.2" y1="392.95" x2="41.2" y2="392.95" stroke="#000" stroke-width="1.1"/>
<text x="33.2" y="396.15" font-size="10" text-anchor="end" textLength="12.72" lengthAdjust="spacingAndGlyphs">96</text>
<line x1="37.2" y1="356.61" x2="41.2" y2="356.61" stroke="#000" stroke-width="1.1"/>
<text x="33.2" y="359.81" font-size="10" text-anchor="end" textLength="12.72" lengthAdjust="spacingAndGlyphs">98</text>
<line x1="37.2" y1="320.26" x2="41.2" y2="320.26" stroke="#000" stroke-width="1.1"/>
<text x="33.2" y="323.46" font-size="10" text-anchor="end" textLength="19.09" lengthAdjust="spacingAndGlyphs">100</text>
<line x1="37.2" y1="283.92" x2="41.2" y2="283.92" stroke="#000" stroke-width="1.1"/>
<text x="33.2" y="287.12" font-size="10" text-anchor="end" textLength="19.09" lengthAdjust="spacingAndGlyphs">102</text>
<line x1="37.2" y1="247.58" x2="41.2" y2="247.58" stroke="#000" stroke-width="1.1"/>
<text x="33.2" y="250.78" font-size="10" text-anchor="end" textLength="19.09" lengthAdjust="spacingAndGlyphs">104</text>
<rect x="113.04" y="245" width="98.16" height="21.4" rx="2.5" fill="#fff" fill-opacity="0.8" stroke="#ccc" stroke-opacity="0.8" stroke-width="1"/>
<path d="M126.74 252.2L133.54 259M126.74 259L133.54 252.2" class="lm"/>
<text x="151.34" y="259.4" font-size="12" text-anchor=" style="stroke-width:.12"" textLength="53.85" lengthAdjust="spacingAndGlyphs">battery d</text>
<text x="0" y="0" font-size="10" text-anchor="middle" textLength="19.99" lengthAdjust="spacingAndGlyphs" transform="translate(8.2 329.35) rotate(-90)">SoH</text>
<text x="129.15" y="448.5" font-size="10" text-anchor="middle" textLength="23.6" lengthAdjust="spacingAndGlyphs">days</text>
<g clip-path="url(#ce)">
<path d="M252.3 411.12L255.8 411.12M252.3 411.12L250.55 408.32M252.3 411.12L250.55 413.92" class="lm"/>
<path d="M257.97 277.31L261.47 277.31M257.97 277.31L256.22 274.51M257.97 277.31L256.22 280.11" class="lm"/>
<path d="M263.65 262.45L267.15 262.45M263.65 262.45L261.9 259.65M263.65 262.45L261.9 265.25" class="lm"/>
<path d="M269.32 307.05L272.82 307.05M269.32 307.05L267.57 304.25M269.32 307.05L267.57 309.85" class="lm"/>
<path d="M275 381.39L278.5 381.39M275 381.39L273.25 378.59M275 381.39L273.25 384.19" class="lm"/>
<path d="M280.67 307.05L284.17 307.05M280.67 307.05L278.92 304.25M280.67 307.05L278.92 309.85" class="lm"/>
<path d="M286.35 321.92L289.85 321.92M286.35 321.92L284.6 319.12M286.35 321.92L284.6 324.72" class="lm"/>
<path d="M292.02 321.92L295.52 321.92M292.02 321.92L290.27 319.12M292.02 321.92L290.27 324.72" class="lm"/>
<path d="M297.69 247.58L301.19 247.58M297.69 247.58L295.94 244.78M297.69 247.58L295.94 250.38" class="lm"/>
<path d="M303.37 262.45L306.87 262.45M303.37 262.45L301.62 259.65M303.37 262.45L301.62 265.25" class="lm"/>
<path d="M309.04 277.31L312.54 277.31M309.04 277.31L307.29 274.51M309.04 277.31L307.29 280.11" class="lm"/>
<path d="M314.72 262.45L318.22 262.45M314.72 262.45L312.97 259.65M314.72 262.45L312.97 265.25" class="lm"/>
<path d="M320.39 307.05L323.89 307.05M320.39 307.05L318.64 304.25M320.39 307.05L318.64 309.85" class="lm"/>
<path d="M326.06 366.52L329.56 366.52M326.06 366.52L324.31 363.72M326.06 366.52L324.31 369.32" class="lm"/>
<path d="M331.74 321.92L335.24 321.92M331.74 321.92L329.99 319.12M331.74 321.92L329.99 324.72" class="lm"/>
<path d="M337.41 351.65L340.91 351.65M337.41 351.65L335.66 348.85M337.41 351.65L335.66 354.45" class="lm"/>
<path d="M343.09 381.39L346.59 381.39M343.09 381.39L341.34 378.59M343.09 381.39L341.34 384.19" class="lm"/>
<path d="M348.76 336.78L352.26 336.78M348.76 336.78L347.01 333.98M348.76 336.78L347.01 339.58" class="lm"/>
<path d="M354.44 307.05L357.94 307.05M354.44 307.05L352.69 304.25M354.44 307.05L352.69 309.85" class="lm"/>
<path d="M360.11 366.52L363.61 366.52M360.11 366.52L358.36 363.72M360.11 366.52L358.36 369.32" class="lm"/>
<path d="M365.78 277.31L369.28 277.31M365.78 277.31L364.03 274.51M365.78 277.31L364.03 280.11" class="lm"/>
<path d="M371.46 292.18L374.96 292.18M371.46 292.18L369.71 289.38M371.46 292.18L369.71 294.98" class="lm"/>
<path d="M377.13 307.05L380.63 307.05M377.13 307.05L375.38 304.25M377.13 307.05L375.38 309.85" class="lm"/>
<path d="M382.81 321.92L386.31 321.92M382.81 321.92L381.06 319.12M382.81 321.92L381.06 324.72" class="lm"/>
<path d="M388.48 321.92L391.98 321.92M388.48 321.92L386.73 319.12M388.48 321.92L386.73 324.72" class="lm"/>
<path d="M394.15 381.39L397.65 381.39M394.15 381.39L392.4 378.59M394.15 381.39L392.4 384.19" class="lm"/>
<path d="M399.83 396.25L403.33 396.25M399.83 396.25L398.08 393.45M399.83 396.25L398.08 399.05" class="lm"/>
<path d="M405.5 336.78L409 336.78M405.5 336.78L403.75 333.98M405.5 336.78L403.75 339.58" class="lm"/>
<path d="M411.18 381.39L414.68 381.39M411.18 381.39L409.43 378.59M411.18 381.39L409.43 384.19" class="lm"/>
<path d="M416.85 396.25L420.35 396.25M416.85 396.25L415.1 393.45M416.85 396.25L415.1 399.05" class="lm"/>
<path d="M422.53 396.25L426.03 396.25M422.53 396.25L420.78 393.45M422.53 396.25L420.78 399.05" class="lm"/>
<path d="M428.2 307.05L431.7 307.05M428.2 307.05L426.45 304.25M428.2 307.05L426.45 309.85" class="lm"/>
<path d="M252.3 263.08L255.14 264.86L257.97 266.63L260.81 268.39L263.65 270.16L266.49 271.91L269.32 273.67L272.16 275.41L275 277.15L277.83 278.89L280.67 280.62L283.51 282.34L286.35 284.05L289.18 285.75L292.02 287.44L294.86 289.12L297.69 290.79L300.53 292.44L303.37 294.08L306.2 295.71L309.04 297.31L311.88 298.9L314.72 300.46L317.55 302L320.39 303.52L323.23 305L326.06 306.45L328.9 307.86L331.74 309.24L334.58 310.57L337.41 311.85L340.25 313.09L343.09 314.27L345.92 315.39L348.76 316.46L351.6 317.46L354.44 318.4L357.27 319.28L360.11 320.09L362.95 320.84L365.78 321.53L368.62 322.17L371.46 322.75L374.3 323.28L377.13 323.76L379.97 324.2L382.81 324.59L385.64 324.96L388.48 325.28L391.32 325.58L394.15 325.85L396.99 326.1L399.83 326.32L402.67 326.53L405.5 326.71L408.34 326.88L411.18 327.04L414.01 327.18L416.85 327.3L419.69 327.42L422.53 327.53L425.36 327.62L428.2 327.71L428.2 383.91L425.36 382.15L422.53 380.4L419.69 378.65L416.85 376.91L414.01 375.19L411.18 373.48L408.34 371.78L405.5 370.09L402.67 368.42L399.83 366.77L396.99 365.14L394.15 363.53L391.32 361.95L388.48 360.39L385.64 358.87L382.81 357.38L379.97 355.93L377.13 354.53L374.3 353.17L371.46 351.87L368.62 350.62L365.78 349.44L362.95 348.32L360.11 347.27L357.27 346.3L354.44 345.39L351.6 344.56L348.76 343.8L345.92 343.12L343.09 342.49L340.25 341.93L337.41 341.43L334.58 340.98L331.74 340.58L328.9 340.22L326.06 339.9L323.23 339.62L320.39 339.37L317.55 339.14L314.72 338.94L311.88 338.77L309.04 338.61L306.2 338.48L303.37 338.35L300.53 338.25L297.69 338.15L294.86 338.07L292.02 338L289.18 337.94L286.35 337.89L283.51 337.84L280.67 337.81L277.83 337.77L275 337.75L272.16 337.73L269.32 337.72L266.49 337.71L263.65 337.7L260.81 337.7L257.97 337.7L255.14 337.71L252.3 337.72Z" fill="#d95f02" fill-opacity="0.15"/>
<line x1="252.3" y1="299.95" x2="428.2" y2="355.96" stroke="#d25a06" stroke-width="2.8"/>
</g>
<rect x="252.3" y="239.4" width="175.9" height="179.9" fill="none" stroke="#000" stroke-width="1.1"/>
<line x1="252.3" y1="419.3" x2="252.3" y2="423.3" stroke="#000" stroke-width="1.1"/>
<text x="252.3" y="434.9" font-size="10" text-anchor="middle" textLength="6.36" lengthAdjust="spacingAndGlyphs">0</text>
<line x1="309.04" y1="419.3" x2="309.04" y2="423.3" stroke="#000" stroke-width="1.1"/>
<text x="309.04" y="434.9" font-size="10" text-anchor="middle" textLength="12.72" lengthAdjust="spacingAndGlyphs">10</text>
<line x1="365.78" y1="419.3" x2="365.78" y2="423.3" stroke="#000" stroke-width="1.1"/>
<text x="365.78" y="434.9" font-size="10" text-anchor="middle" textLength="12.72" lengthAdjust="spacingAndGlyphs">20</text>
<line x1="422.53" y1="419.3" x2="422.53" y2="423.3" stroke="#000" stroke-width="1.1"/>
<text x="422.53" y="434.9" font-size="10" text-anchor="middle" textLength="12.72" lengthAdjust="spacingAndGlyphs">30</text>
<line x1="248.3" y1="396.25" x2="252.3" y2="396.25" stroke="#000" stroke-width="1.1"/>
<text x="244.3" y="399.45" font-size="10" text-anchor="end" textLength="12.72" lengthAdjust="spacingAndGlyphs">92</text>
<line x1="248.3" y1="366.52" x2="252.3" y2="366.52" stroke="#000" stroke-width="1.1"/>
<text x="244.3" y="369.72" font-size="10" text-anchor="end" textLength="12.72" lengthAdjust="spacingAndGlyphs">94</text>
<line x1="248.3" y1="336.78" x2="252.3" y2="336.78" stroke="#000" stroke-width="1.1"/>
<text x="244.3" y="339.98" font-size="10" text-anchor="end" textLength="12.72" lengthAdjust="spacingAndGlyphs">96</text>
<line x1="248.3" y1="307.05" x2="252.3" y2="307.05" stroke="#000" stroke-width="1.1"/>
<text x="244.3" y="310.25" font-size="10" text-anchor="end" textLength="12.72" lengthAdjust="spacingAndGlyphs">98</text>
<line x1="248.3" y1="277.31" x2="252.3" y2="277.31" stroke="#000" stroke-width="1.1"/>
<text x="244.3" y="280.51" font-size="10" text-anchor="end" textLength="19.09" lengthAdjust="spacingAndGlyphs">100</text>
<line x1="248.3" y1="247.58" x2="252.3" y2="247.58" stroke="#000" stroke-width="1.1"/>
<text x="244.3" y="250.78" font-size="10" text-anchor="end" textLength="19.09" lengthAdjust="spacingAndGlyphs">102</text>
<rect x="324.37" y="245" width="97.93" height="21.4" rx="2.5" fill="#fff" fill-opacity="0.8" stroke="#ccc" stroke-opacity="0.8" stroke-width="1"/>
<path d="M341.47 255.6L344.97 255.6M341.47 255.6L339.72 252.8M341.47 255.6L339.72 258.4" class="lm"/>
<text x="362.67" y="259.4" font-size="12" text-anchor=" style="stroke-width:.12"" textLength="53.62" lengthAdjust="spacingAndGlyphs">battery e</text>
<text x="340.25" y="448.5" font-size="10" text-anchor="middle" textLength="23.6" lengthAdjust="spacingAndGlyphs">days</text>
<g clip-path="url(#cf)">
<path d="M463.5 366.52L463.5 363.02M463.5 366.52L460.7 368.27M463.5 366.52L466.3 368.27" class="lm"/>
<path d="M469.17 321.92L469.17 318.42M469.17 321.92L466.37 323.67M469.17 321.92L471.97 323.67" class="lm"/>
<path d="M474.85 277.31L474.85 273.81M474.85 277.31L472.05 279.06M474.85 277.31L477.65 279.06" class="lm"/>
<path d="M480.52 351.65L480.52 348.15M480.52 351.65L477.72 353.4M480.52 351.65L483.32 353.4" class="lm"/>
<path d="M486.2 381.39L486.2 377.89M486.2 381.39L483.4 383.14M486.2 381.39L489 383.14" class="lm"/>
<path d="M491.87 277.31L491.87 273.81M491.87 277.31L489.07 279.06M491.87 277.31L494.67 279.06" class="lm"/>
<path d="M497.55 247.58L497.55 244.08M497.55 247.58L494.75 249.33M497.55 247.58L500.35 249.33" class="lm"/>
<path d="M503.22 292.18L503.22 288.68M503.22 292.18L500.42 293.93M503.22 292.18L506.02 293.93" class="lm"/>
<path d="M508.89 292.18L508.89 288.68M508.89 292.18L506.09 293.93M508.89 292.18L511.69 293.93" class="lm"/>
<path d="M514.57 277.31L514.57 273.81M514.57 277.31L511.77 279.06M514.57 277.31L517.37 279.06" class="lm"/>
<path d="M520.24 321.92L520.24 318.42M520.24 321.92L517.44 323.67M520.24 321.92L523.04 323.67" class="lm"/>
<path d="M525.92 321.92L525.92 318.42M525.92 321.92L523.12 323.67M525.92 321.92L528.72 323.67" class="lm"/>
<path d="M531.59 351.65L531.59 348.15M531.59 351.65L528.79 353.4M531.59 351.65L534.39 353.4" class="lm"/>
<path d="M537.26 366.52L537.26 363.02M537.26 366.52L534.46 368.27M537.26 366.52L540.06 368.27" class="lm"/>
<path d="M542.94 366.52L542.94 363.02M542.94 366.52L540.14 368.27M542.94 366.52L545.74 368.27" class="lm"/>
<path d="M548.61 307.05L548.61 303.55M548.61 307.05L545.81 308.8M548.61 307.05L551.41 308.8" class="lm"/>
<path d="M554.29 307.05L554.29 303.55M554.29 307.05L551.49 308.8M554.29 307.05L557.09 308.8" class="lm"/>
<path d="M559.96 336.78L559.96 333.28M559.96 336.78L557.16 338.53M559.96 336.78L562.76 338.53" class="lm"/>
<path d="M565.64 321.92L565.64 318.42M565.64 321.92L562.84 323.67M565.64 321.92L568.44 323.67" class="lm"/>
<path d="M571.31 292.18L571.31 288.68M571.31 292.18L568.51 293.93M571.31 292.18L574.11 293.93" class="lm"/>
<path d="M576.98 336.78L576.98 333.28M576.98 336.78L574.18 338.53M576.98 336.78L579.78 338.53" class="lm"/>
<path d="M582.66 351.65L582.66 348.15M582.66 351.65L579.86 353.4M582.66 351.65L585.46 353.4" class="lm"/>
<path d="M588.33 336.78L588.33 333.28M588.33 336.78L585.53 338.53M588.33 336.78L591.13 338.53" class="lm"/>
<path d="M594.01 321.92L594.01 318.42M594.01 321.92L591.21 323.67M594.01 321.92L596.81 323.67" class="lm"/>
<path d="M599.68 366.52L599.68 363.02M599.68 366.52L596.88 368.27M599.68 366.52L602.48 368.27" class="lm"/>
<path d="M605.35 336.78L605.35 333.28M605.35 336.78L602.55 338.53M605.35 336.78L608.15 338.53" class="lm"/>
<path d="M611.03 381.39L611.03 377.89M611.03 381.39L608.23 383.14M611.03 381.39L613.83 383.14" class="lm"/>
<path d="M616.7 411.12L616.7 407.62M616.7 411.12L613.9 412.87M616.7 411.12L619.5 412.87" class="lm"/>
<path d="M622.38 336.78L622.38 333.28M622.38 336.78L619.58 338.53M622.38 336.78L625.18 338.53" class="lm"/>
<path d="M628.05 396.25L628.05 392.75M628.05 396.25L625.25 398M628.05 396.25L630.85 398" class="lm"/>
<path d="M633.73 321.92L633.73 318.42M633.73 321.92L630.93 323.67M633.73 321.92L636.53 323.67" class="lm"/>
<path d="M639.4 351.65L639.4 348.15M639.4 351.65L636.6 353.4M639.4 351.65L642.2 353.4" class="lm"/>
<path d="M463.5 278.32L466.34 279.72L469.17 281.12L472.01 282.52L474.85 283.91L477.69 285.3L480.52 286.68L483.36 288.06L486.2 289.43L489.03 290.79L491.87 292.14L494.71 293.49L497.55 294.83L500.38 296.16L503.22 297.48L506.06 298.79L508.89 300.08L511.73 301.37L514.57 302.65L517.4 303.91L520.24 305.15L523.08 306.38L525.92 307.59L528.75 308.79L531.59 309.97L534.43 311.12L537.26 312.26L540.1 313.37L542.94 314.46L545.78 315.52L548.61 316.56L551.45 317.57L554.29 318.55L557.12 319.5L559.96 320.42L562.8 321.31L565.64 322.18L568.47 323.01L571.31 323.81L574.15 324.58L576.98 325.31L579.82 326.02L582.66 326.71L585.5 327.36L588.33 327.99L591.17 328.59L594.01 329.16L596.84 329.72L599.68 330.25L602.52 330.76L605.35 331.25L608.19 331.72L611.03 332.18L613.87 332.62L616.7 333.04L619.54 333.45L622.38 333.85L625.21 334.23L628.05 334.61L630.89 334.97L633.73 335.32L636.56 335.67L639.4 336L639.4 378.82L636.56 377.45L633.73 376.09L630.89 374.74L628.05 373.4L625.21 372.06L622.38 370.73L619.54 369.41L616.7 368.11L613.87 366.81L611.03 365.53L608.19 364.26L605.35 363.01L602.52 361.77L599.68 360.56L596.84 359.36L594.01 358.18L591.17 357.02L588.33 355.89L585.5 354.79L582.66 353.71L579.82 352.66L576.98 351.65L574.15 350.66L571.31 349.71L568.47 348.8L565.64 347.91L562.8 347.07L559.96 346.26L557.12 345.48L554.29 344.74L551.45 344.03L548.61 343.36L545.78 342.71L542.94 342.1L540.1 341.52L537.26 340.96L534.43 340.42L531.59 339.91L528.75 339.43L525.92 338.96L523.08 338.51L520.24 338.08L517.4 337.66L514.57 337.26L511.73 336.87L508.89 336.49L506.06 336.13L503.22 335.77L500.38 335.43L497.55 335.09L494.71 334.76L491.87 334.44L489.03 334.13L486.2 333.82L483.36 333.52L480.52 333.22L477.69 332.93L474.85 332.65L472.01 332.36L469.17 332.09L466.34 331.81L463.5 331.54Z" fill="#d95f02" fill-opacity="0.15"/>
<line x1="463.5" y1="306.12" x2="639.4" y2="358.16" stroke="#d25a06" stroke-width="2.8"/>
</g>
<rect x="463.5" y="239.4" width="175.9" height="179.9" fill="none" stroke="#000" stroke-width="1.1"/>
<line x1="463.5" y1="419.3" x2="463.5" y2="423.3" stroke="#000" stroke-width="1.1"/>
<text x="463.5" y="434.9" font-size="10" text-anchor="middle" textLength="6.36" lengthAdjust="spacingAndGlyphs">0</text>
<line x1="520.24" y1="419.3" x2="520.24" y2="423.3" stroke="#000" stroke-width="1.1"/>
<text x="520.24" y="434.9" font-size="10" text-anchor="middle" textLength="12.72" lengthAdjust="spacingAndGlyphs">10</text>
<line x1="576.98" y1="419.3" x2="576.98" y2="423.3" stroke="#000" stroke-width="1.1"/>
<text x="576.98" y="434.9" font-size="10" text-anchor="middle" textLength="12.72" lengthAdjust="spacingAndGlyphs">20</text>
<line x1="633.73" y1="419.3" x2="633.73" y2="423.3" stroke="#000" stroke-width="1.1"/>
<text x="633.73" y="434.9" font-size="10" text-anchor="middle" textLength="12.72" lengthAdjust="spacingAndGlyphs">30</text>
<line x1="459.5" y1="411.12" x2="463.5" y2="411.12" stroke="#000" stroke-width="1.1"/>
<text x="455.5" y="414.32" font-size="10" text-anchor="end" textLength="12.72" lengthAdjust="spacingAndGlyphs">94</text>
<line x1="459.5" y1="381.39" x2="463.5" y2="381.39" stroke="#000" stroke-width="1.1"/>
<text x="455.5" y="384.59" font-size="10" text-anchor="end" textLength="12.72" lengthAdjust="spacingAndGlyphs">96</text>
<line x1="459.5" y1="351.65" x2="463.5" y2="351.65" stroke="#000" stroke-width="1.1"/>
<text x="455.5" y="354.85" font-size="10" text-anchor="end" textLength="12.72" lengthAdjust="spacingAndGlyphs">98</text>
<line x1="459.5" y1="321.92" x2="463.5" y2="321.92" stroke="#000" stroke-width="1.1"/>
<text x="455.5" y="325.12" font-size="10" text-anchor="end" textLength="19.09" lengthAdjust="spacingAndGlyphs">100</text>
<line x1="459.5" y1="292.18" x2="463.5" y2="292.18" stroke="#000" stroke-width="1.1"/>
<text x="455.5" y="295.38" font-size="10" text-anchor="end" textLength="19.09" lengthAdjust="spacingAndGlyphs">102</text>
<line x1="459.5" y1="262.45" x2="463.5" y2="262.45" stroke="#000" stroke-width="1.1"/>
<text x="455.5" y="265.65" font-size="10" text-anchor="end" textLength="19.09" lengthAdjust="spacingAndGlyphs">104</text>
<rect x="538.73" y="245" width="94.77" height="21.4" rx="2.5" fill="#fff" fill-opacity="0.8" stroke="#ccc" stroke-opacity="0.8" stroke-width="1"/>
<path d="M555.83 255.6L555.83 252.1M555.83 255.6L553.03 257.35M555.83 255.6L558.63 257.35" class="lm"/>
<text x="577.03" y="259.4" font-size="12" text-anchor=" style="stroke-width:.12"" textLength="50.54" lengthAdjust="spacingAndGlyphs">battery f</text>
<text x="551.45" y="448.5" font-size="10" text-anchor="middle" textLength="23.6" lengthAdjust="spacingAndGlyphs">days</text>
<circle cx="366.6" cy="0.6" r="0.9" fill="#777" fill-opacity=".6"/>
</svg></body></html>
